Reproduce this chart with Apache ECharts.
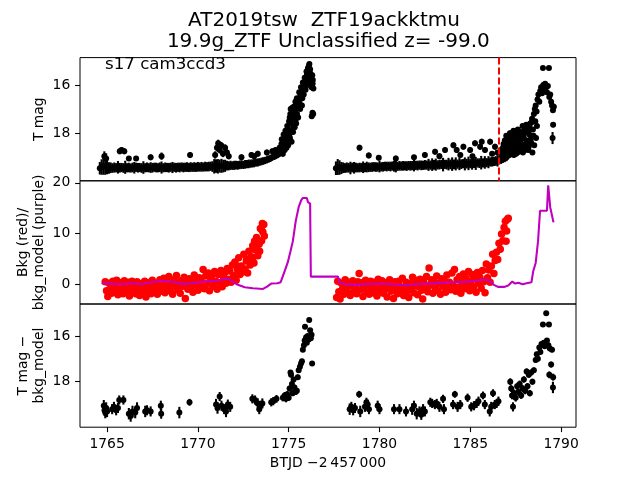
<!DOCTYPE html>
<html><head><meta charset="utf-8">
<script src="https://cdn.jsdelivr.net/npm/echarts@6/dist/echarts.min.js"></script>
<style>html,body{margin:0;padding:0;background:#fff}#c{width:640px;height:480px}</style>
</head><body><div id="c"></div>
<script>
// ---------- data ----------
const xTicks = [1765, 1770, 1775, 1780, 1785, 1790];
const topYTicks = [16, 18];
const midYTicks = [0, 10, 20];
const botYTicks = [16, 18];
const peakLineX = 1786.57;

// top panel: [time, mag, err]
const lcOrbit1Band = [[1764.6,19.45,0.26],[1764.7,19.4,0.32],[1764.8,19.36,0.36],[1764.9,19.38,0.34],[1765.0,19.42,0.28],[1765.1,19.44,0.24],[1765.2,19.43,0.22],[1765.3,19.44,0.2],[1765.4,19.42,0.21],[1765.5,19.43,0.19],[1765.6,19.41,0.26],[1765.7,19.43,0.2],[1765.8,19.42,0.19],[1765.9,19.44,0.2],[1766.0,19.41,0.27],[1766.1,19.43,0.19],[1766.2,19.42,0.2],[1766.3,19.44,0.19],[1766.4,19.42,0.2],[1766.5,19.43,0.24],[1766.6,19.41,0.19],[1766.7,19.43,0.2],[1766.8,19.42,0.19],[1766.9,19.44,0.2],[1767.0,19.42,0.26],[1767.1,19.43,0.19],[1767.2,19.41,0.2],[1767.3,19.43,0.19],[1767.4,19.42,0.22],[1767.5,19.43,0.2],[1767.6,19.41,0.19],[1767.7,19.42,0.2],[1767.8,19.43,0.19],[1767.9,19.41,0.2],[1768.0,19.42,0.25],[1768.1,19.43,0.19],[1768.2,19.41,0.2],[1768.3,19.42,0.19],[1768.4,19.43,0.2],[1768.5,19.41,0.19],[1768.6,19.42,0.23],[1768.7,19.41,0.19],[1768.8,19.43,0.2],[1768.9,19.41,0.19],[1769.0,19.42,0.2],[1769.1,19.4,0.19],[1769.2,19.42,0.2],[1769.3,19.41,0.19],[1769.4,19.4,0.2],[1769.5,19.42,0.19],[1769.6,19.4,0.2],[1769.7,19.41,0.19],[1769.8,19.4,0.2],[1769.9,19.41,0.19],[1770.0,19.39,0.2],[1770.1,19.4,0.19],[1770.2,19.39,0.2],[1770.3,19.4,0.19],[1770.4,19.38,0.2],[1770.5,19.39,0.19],[1770.6,19.38,0.2],[1770.7,19.37,0.19],[1770.8,19.38,0.22],[1770.9,19.37,0.3],[1771.0,19.36,0.28],[1771.1,19.37,0.3],[1771.2,19.36,0.27],[1771.3,19.35,0.29],[1771.4,19.36,0.26],[1771.5,19.35,0.25],[1771.6,19.34,0.2],[1771.7,19.35,0.19],[1771.8,19.33,0.19],[1771.9,19.34,0.18],[1772.0,19.33,0.19],[1772.1,19.32,0.18],[1772.2,19.33,0.18],[1772.3,19.31,0.18],[1772.4,19.3,0.18],[1772.5,19.31,0.17],[1772.6,19.29,0.18],[1772.7,19.28,0.17],[1772.8,19.27,0.18],[1772.9,19.26,0.17],[1773.0,19.25,0.17],[1773.1,19.24,0.17],[1773.2,19.22,0.16],[1773.3,19.21,0.17],[1773.4,19.19,0.16],[1773.5,19.17,0.16],[1773.6,19.15,0.16],[1773.7,19.13,0.15],[1773.8,19.1,0.15],[1773.9,19.07,0.15],[1774.0,19.04,0.15],[1774.1,19.0,0.14],[1774.2,18.97,0.14],[1774.3,18.93,0.14],[1774.4,18.89,0.14],[1774.5,18.84,0.13],[1774.6,18.78,0.13]];
const lcOrbit1Out = [[1764.85,18.95,0.2],[1764.95,19.05,0.22],[1765.7,18.75,0.12],[1765.8,18.7,0.12],[1765.95,18.75,0.12],[1766.2,19.05,0.1],[1766.6,19.05,0.1],[1767.4,19.0,0.12],[1768.0,18.95,0.15],[1769.57,18.9,0.12],[1770.95,18.9,0.15],[1771.05,18.6,0.15],[1771.12,18.42,0.15],[1771.2,18.7,0.14],[1771.28,18.5,0.14],[1771.38,18.85,0.14],[1771.5,18.6,0.14],[1771.6,18.8,0.13],[1771.7,18.95,0.13],[1772.4,19.0,0.12],[1772.95,18.9,0.12],[1773.1,18.95,0.12],[1773.3,18.85,0.12],[1773.8,18.8,0.12],[1774.1,18.75,0.12],[1774.28,18.7,0.12]];
const lcOrbit1Rise = [[1774.5,18.6,0.1],[1774.6,18.45,0.1],[1774.65,18.65,0.1],[1774.7,18.3,0.1],[1774.75,18.55,0.1],[1774.8,18.15,0.09],[1774.85,18.4,0.09],[1774.9,18.0,0.09],[1774.95,18.3,0.09],[1775.0,17.85,0.09],[1775.03,18.1,0.09],[1775.06,17.35,0.08],[1775.09,17.2,0.08],[1775.12,17.6,0.08],[1775.15,17.9,0.08],[1775.18,17.4,0.08],[1775.22,17.15,0.08],[1775.26,17.7,0.08],[1775.3,17.3,0.08],[1775.34,17.05,0.08],[1775.38,17.45,0.08],[1775.42,16.95,0.07],[1775.46,17.2,0.07],[1775.5,16.8,0.07],[1775.55,16.6,0.07],[1775.6,16.75,0.07],[1775.65,16.45,0.07],[1775.7,16.3,0.07],[1775.75,16.55,0.07],[1775.8,16.15,0.06],[1775.85,15.95,0.06],[1775.9,16.1,0.06],[1775.95,15.8,0.06],[1776.0,15.6,0.06],[1776.04,15.75,0.06],[1776.08,15.4,0.05],[1776.12,15.2,0.05],[1776.14,15.13,0.05],[1776.18,15.35,0.05],[1776.21,15.55,0.05],[1776.24,15.7,0.05],[1776.27,15.9,0.06],[1776.3,15.6,0.06],[1776.33,15.8,0.06],[1776.27,17.3,0.08],[1776.31,17.15,0.08],[1776.35,17.2,0.08]];
const lcOrbit1RiseB = [[1774.55,18.8,0.12],[1774.62,18.25,0.1],[1774.68,18.85,0.12],[1774.72,18.05,0.1],[1774.78,18.7,0.11],[1774.82,17.9,0.1],[1774.88,18.6,0.1],[1774.92,17.7,0.09],[1774.97,18.5,0.1],[1775.02,17.5,0.09],[1775.07,18.2,0.1],[1775.11,17.0,0.08],[1775.16,18.35,0.1],[1775.2,16.95,0.08],[1775.24,17.95,0.09],[1775.28,16.9,0.08],[1775.33,17.75,0.09],[1775.37,16.7,0.08],[1775.41,17.6,0.08],[1775.45,16.55,0.07],[1775.52,17.35,0.08],[1775.58,16.3,0.07],[1775.63,17.0,0.08],[1775.68,16.1,0.07],[1775.73,16.85,0.07],[1775.78,15.9,0.06],[1775.83,16.4,0.07],[1775.88,15.7,0.06],[1775.93,16.2,0.06],[1775.98,15.45,0.06],[1776.02,16.0,0.06],[1776.06,15.3,0.06],[1776.16,15.5,0.05],[1776.2,15.9,0.06],[1776.26,16.1,0.06],[1776.32,15.95,0.06],[1776.36,16.15,0.06]];
const lcOrbit2Band = [[1777.6,19.45,0.28],[1777.7,19.4,0.33],[1777.8,19.42,0.3],[1777.9,19.44,0.25],[1778.0,19.43,0.22],[1778.1,19.44,0.2],[1778.2,19.42,0.21],[1778.3,19.43,0.2],[1778.4,19.44,0.26],[1778.5,19.42,0.2],[1778.6,19.43,0.24],[1778.7,19.42,0.2],[1778.8,19.43,0.19],[1778.9,19.42,0.2],[1779.0,19.42,0.19],[1779.1,19.41,0.24],[1779.2,19.42,0.19],[1779.3,19.4,0.22],[1779.4,19.41,0.2],[1779.5,19.41,0.19],[1779.6,19.4,0.2],[1779.7,19.39,0.19],[1779.8,19.4,0.2],[1779.9,19.4,0.19],[1780.0,19.38,0.24],[1780.1,19.39,0.19],[1780.2,19.39,0.2],[1780.3,19.37,0.19],[1780.4,19.38,0.2],[1780.5,19.37,0.19],[1780.6,19.38,0.2],[1780.7,19.36,0.19],[1780.8,19.37,0.22],[1780.9,19.36,0.26],[1781.0,19.37,0.19],[1781.1,19.35,0.2],[1781.2,19.36,0.19],[1781.3,19.35,0.2],[1781.4,19.35,0.19],[1781.5,19.36,0.2],[1781.6,19.34,0.19],[1781.7,19.35,0.2],[1781.8,19.34,0.19],[1781.9,19.34,0.24],[1782.0,19.33,0.19],[1782.1,19.34,0.2],[1782.2,19.32,0.19],[1782.3,19.33,0.2],[1782.4,19.33,0.19],[1782.5,19.31,0.2],[1782.6,19.32,0.19],[1782.7,19.31,0.25],[1782.8,19.32,0.19],[1782.9,19.3,0.26],[1783.0,19.31,0.2],[1783.1,19.3,0.25],[1783.2,19.31,0.19],[1783.3,19.3,0.2],[1783.4,19.29,0.19],[1783.5,19.3,0.28],[1783.6,19.29,0.19],[1783.7,19.3,0.2],[1783.8,19.28,0.26],[1783.9,19.29,0.2],[1784.0,19.28,0.28],[1784.1,19.29,0.2],[1784.2,19.27,0.27],[1784.3,19.28,0.19],[1784.4,19.27,0.26],[1784.5,19.28,0.2],[1784.6,19.26,0.19],[1784.7,19.27,0.27],[1784.8,19.26,0.2],[1784.9,19.25,0.28],[1785.0,19.26,0.19],[1785.1,19.25,0.26],[1785.2,19.24,0.2],[1785.3,19.25,0.27],[1785.4,19.23,0.19],[1785.5,19.24,0.2],[1785.6,19.22,0.28],[1785.7,19.23,0.19],[1785.8,19.21,0.26],[1785.9,19.22,0.19],[1786.0,19.2,0.25],[1786.1,19.19,0.19],[1786.2,19.18,0.2],[1786.3,19.17,0.19],[1786.4,19.15,0.2],[1786.5,19.13,0.25],[1786.6,19.11,0.18],[1786.7,19.09,0.18],[1786.8,19.06,0.17],[1786.9,19.03,0.17],[1787.0,19.0,0.16]];
const lcOrbit2Out = [[1778.9,18.6,0.12],[1779.41,18.92,0.12],[1779.96,19.02,0.1],[1780.9,19.05,0.12],[1781.9,19.0,0.1],[1782.5,18.9,0.12],[1783.06,18.77,0.12],[1783.3,18.95,0.12],[1783.61,18.7,0.12],[1784.07,18.5,0.12],[1784.25,18.7,0.12],[1784.45,18.9,0.1],[1784.62,18.56,0.12],[1784.99,18.7,0.12],[1785.12,18.95,0.1],[1785.26,18.42,0.12],[1785.54,18.56,0.12],[1785.63,18.35,0.12],[1785.81,18.7,0.12],[1786.09,18.35,0.12],[1786.2,18.85,0.1],[1786.36,18.56,0.12],[1786.5,18.8,0.1]];
const lcOrbit2Rise = [[1786.75,18.9,0.12],[1786.8,18.6,0.12],[1786.85,18.75,0.12],[1786.9,18.3,0.12],[1786.95,18.85,0.12],[1787.0,18.45,0.11],[1787.05,18.7,0.11],[1787.1,18.2,0.11],[1787.15,18.9,0.11],[1787.2,18.5,0.11],[1787.25,18.05,0.11],[1787.3,18.75,0.11],[1787.35,18.35,0.11],[1787.4,18.9,0.11],[1787.45,18.15,0.11],[1787.5,18.6,0.1],[1787.55,18.0,0.1],[1787.6,18.8,0.1],[1787.65,18.4,0.1],[1787.7,18.1,0.1],[1787.75,18.65,0.1],[1787.8,17.95,0.1],[1787.85,18.45,0.1],[1787.9,18.8,0.1],[1787.95,18.2,0.1],[1788.0,17.85,0.1],[1788.05,18.55,0.1],[1788.1,18.3,0.1],[1788.15,17.75,0.09],[1788.2,18.7,0.1],[1788.25,18.05,0.09],[1788.3,17.6,0.09],[1788.35,18.4,0.09],[1788.4,17.4,0.09],[1788.42,18.8,0.1],[1788.45,17.85,0.09],[1788.5,17.2,0.08],[1788.52,18.5,0.1],[1788.55,17.0,0.08],[1788.6,16.85,0.08],[1788.62,18.2,0.1],[1788.65,17.1,0.08],[1788.67,17.7,0.09],[1788.7,16.6,0.07],[1788.75,16.4,0.07],[1788.8,16.7,0.07],[1788.85,16.25,0.07],[1788.9,16.1,0.07],[1788.95,16.35,0.07],[1789.0,15.3,0.06],[1789.02,16.0,0.06],[1789.07,16.2,0.06],[1789.12,15.95,0.06],[1789.17,16.1,0.06],[1789.22,16.3,0.06],[1789.27,16.05,0.06],[1789.33,15.3,0.06],[1789.35,16.5,0.07],[1789.4,16.4,0.07],[1789.45,16.7,0.07],[1789.5,16.85,0.07],[1789.55,17.05,0.08],[1789.6,16.9,0.08],[1789.56,17.65,0.1],[1789.53,18.2,0.25]];
const lcOrbit2RiseB = [[1786.7,18.7,0.12],[1786.78,19.0,0.12],[1786.83,18.45,0.12],[1786.88,18.95,0.12],[1786.93,18.55,0.12],[1786.98,18.1,0.11],[1787.02,18.95,0.11],[1787.08,18.35,0.11],[1787.12,18.6,0.11],[1787.18,18.0,0.11],[1787.22,18.8,0.11],[1787.28,18.25,0.11],[1787.32,18.55,0.11],[1787.38,17.9,0.1],[1787.42,18.65,0.11],[1787.48,18.3,0.1],[1787.52,18.85,0.1],[1787.58,18.5,0.1],[1787.62,17.85,0.1],[1787.68,18.6,0.1],[1787.72,18.3,0.1],[1787.78,18.75,0.1],[1787.82,18.2,0.1],[1787.88,17.7,0.1],[1787.92,18.5,0.1],[1787.98,18.0,0.1],[1788.02,18.7,0.1],[1788.08,17.65,0.1],[1788.12,18.45,0.1],[1788.18,17.95,0.1],[1788.22,18.55,0.1],[1788.28,17.8,0.09],[1788.32,18.25,0.1],[1788.38,17.55,0.09],[1788.48,18.1,0.1],[1788.58,17.5,0.09]];

// middle panel: background [time, value] and background model [time, value]
const bkgOrbit1 = [[1764.90,0.5],[1764.97,-1.3],[1765.04,-2.4],[1765.11,0.2],[1765.18,-0.9],[1765.25,-1.8],[1765.32,0.6],[1765.39,-0.4],[1765.46,-1.5],[1765.53,0.8],[1765.60,-2.1],[1765.67,-0.6],[1765.74,0.3],[1765.81,-1.2],[1765.88,-1.9],[1765.95,0.7],[1766.02,-0.3],[1766.09,-1.6],[1766.16,0.4],[1766.23,-2.3],[1766.30,-0.8],[1766.37,0.6],[1766.44,-1.4],[1766.51,-0.2],[1766.58,-1.9],[1766.65,0.5],[1766.72,-1.0],[1766.79,-2.2],[1766.86,0.1],[1766.93,-0.7],[1767.00,-1.6],[1767.07,0.6],[1767.14,-2.5],[1767.21,-0.5],[1767.28,0.3],[1767.35,-1.3],[1767.42,-1.9],[1767.49,0.8],[1767.56,-0.4],[1767.63,-1.1],[1767.70,0.2],[1767.77,-2.0],[1767.84,-0.6],[1767.91,0.9],[1767.98,-1.4],[1768.05,-0.2],[1768.12,1.2],[1768.19,-1.7],[1768.26,0.4],[1768.33,-0.9],[1768.40,1.5],[1768.47,-1.3],[1768.54,0.1],[1768.61,-2.0],[1768.68,0.9],[1768.75,-0.5],[1768.82,1.7],[1768.89,-1.1],[1768.96,0.3],[1769.03,-1.8],[1769.10,0.7],[1769.17,-0.4],[1769.24,1.4],[1769.31,-2.8],[1769.38,0.2],[1769.45,-1.0],[1769.52,1.1],[1769.59,-0.6],[1769.66,0.5],[1769.73,-1.6],[1769.80,1.8],[1769.87,-0.2],[1769.94,0.8],[1770.01,-1.2],[1770.08,1.3],[1770.15,-0.7],[1770.22,0.4],[1770.29,2.9],[1770.36,-0.9],[1770.43,1.6],[1770.50,0.1],[1770.57,2.2],[1770.64,-1.3],[1770.71,0.9],[1770.78,1.8],[1770.85,-0.4],[1770.92,2.5],[1770.99,0.6],[1771.06,-1.0],[1771.13,1.9],[1771.20,0.3],[1771.27,2.7],[1771.34,-0.5],[1771.41,1.4],[1771.48,2.3],[1771.55,0.2],[1771.62,3.1],[1771.69,1.0],[1771.76,2.6],[1771.83,0.4],[1771.90,3.8],[1771.94,1.2],[1771.97,1.7],[1772.04,4.4],[1772.11,0.8],[1772.18,2.9],[1772.21,3.5],[1772.25,5.2],[1772.32,1.9],[1772.39,3.6],[1772.46,2.4],[1772.53,5.9],[1772.60,3.0],[1772.67,4.6],[1772.70,5.0],[1772.74,2.2],[1772.81,6.5],[1772.88,3.8],[1772.95,5.4],[1773.00,4.8],[1773.02,7.6],[1773.09,4.2],[1773.12,8.5],[1773.16,6.8],[1773.20,7.2],[1773.23,9.2],[1773.30,5.6],[1773.37,7.9],[1773.40,6.5],[1773.44,11.0],[1773.50,10.8],[1773.51,8.6],[1773.55,12.0],[1773.58,10.3],[1773.63,11.8],[1773.66,9.5]];
const bkgOrbit2 = [[1777.64,-2.6],[1777.70,0.6],[1777.76,-1.5],[1777.83,-2.9],[1777.90,0.2],[1777.97,-0.9],[1778.04,-2.0],[1778.11,0.9],[1778.18,-0.5],[1778.25,-1.6],[1778.32,0.4],[1778.39,-2.2],[1778.46,-0.3],[1778.53,0.7],[1778.60,-1.3],[1778.67,-0.6],[1778.74,-1.9],[1778.81,0.5],[1778.88,2.1],[1778.95,-1.1],[1779.02,0.3],[1779.09,-2.4],[1779.16,-0.4],[1779.23,0.8],[1779.30,-1.5],[1779.37,-0.1],[1779.44,-2.0],[1779.51,0.6],[1779.58,-0.8],[1779.65,-1.7],[1779.72,0.4],[1779.79,-0.5],[1779.86,-2.3],[1779.93,1.0],[1780.00,-1.2],[1780.07,-0.3],[1780.14,0.7],[1780.21,-1.8],[1780.28,-0.6],[1780.35,0.3],[1780.42,-2.5],[1780.49,-0.9],[1780.56,0.9],[1780.63,-1.4],[1780.70,-0.2],[1780.77,-2.8],[1780.84,0.5],[1780.91,-1.0],[1780.98,-1.9],[1781.05,0.6],[1781.12,-0.4],[1781.19,-1.6],[1781.26,1.2],[1781.33,-2.2],[1781.40,-0.7],[1781.47,0.4],[1781.54,-1.3],[1781.61,-2.6],[1781.68,0.1],[1781.75,-0.8],[1781.82,1.4],[1781.89,-1.7],[1781.96,-0.3],[1782.03,0.8],[1782.10,-2.1],[1782.17,-0.5],[1782.24,1.0],[1782.31,-1.2],[1782.38,-2.9],[1782.45,0.3],[1782.52,-0.6],[1782.59,1.5],[1782.66,-1.5],[1782.73,3.2],[1782.80,-0.2],[1782.87,0.9],[1782.94,-1.8],[1783.01,0.5],[1783.08,-0.9],[1783.15,1.6],[1783.22,-1.3],[1783.29,0.2],[1783.36,-2.0],[1783.43,1.1],[1783.50,-0.4],[1783.57,0.7],[1783.64,-1.6],[1783.71,1.8],[1783.78,-0.7],[1783.85,0.4],[1783.92,-1.1],[1783.99,2.2],[1784.06,-0.3],[1784.13,2.9],[1784.20,-1.4],[1784.27,0.9],[1784.34,-0.6],[1784.41,1.5],[1784.48,-1.8],[1784.55,0.3],[1784.62,2.0],[1784.69,-0.9],[1784.76,1.2],[1784.83,-0.2],[1784.90,2.5],[1784.97,-1.3],[1785.04,0.6],[1785.11,1.9],[1785.18,-0.5],[1785.25,1.1],[1785.32,-1.6],[1785.39,2.3],[1785.46,0.2],[1785.53,1.4],[1785.60,-0.8],[1785.67,2.7],[1785.74,0.5],[1785.81,-1.7],[1785.88,4.0],[1785.95,1.3],[1786.02,2.8],[1786.09,0.4],[1786.16,3.6],[1786.23,5.9],[1786.30,2.1],[1786.37,4.7],[1786.44,6.3],[1786.51,4.9],[1786.58,8.1],[1786.65,6.9],[1786.72,9.9],[1786.79,8.6],[1786.86,11.2],[1786.93,12.4],[1786.97,8.5],[1787.00,10.5],[1787.05,12.8],[1787.09,13.0]];
const bkgModel = [[1764.7,0.2],[1765.4,0.07],[1765.8,0],[1766.5,0.2],[1766.95,0],[1767.4,0.4],[1768.08,0.67],[1768.75,0.4],[1769.2,0.07],[1769.65,0.2],[1770.3,0.5],[1771.0,0.67],[1771.56,1.07],[1771.79,0.87],[1772.13,0],[1772.58,-0.6],[1773.03,-0.8],[1773.59,-0.93],[1773.81,-0.47],[1774.04,0.13],[1774.38,0.2],[1774.56,0.4],[1774.71,1.9],[1774.94,4.2],[1775.1,6.5],[1775.23,8.5],[1775.39,12.5],[1775.55,15.2],[1775.68,16.5],[1775.77,17.0],[1776.0,17.0],[1776.06,16.2],[1776.18,15.9],[1776.22,1.5],[1777.71,1.5],[1777.8,0.4],[1778.09,0],[1778.65,-0.13],[1779.33,0],[1780.0,0.13],[1780.68,0],[1781.35,-0.2],[1782.03,0],[1782.7,0.13],[1783.38,0.27],[1784.05,0.4],[1784.72,0.47],[1785.29,0.67],[1785.74,0.93],[1786.07,0.67],[1786.3,-0.13],[1786.52,-0.53],[1786.86,-0.53],[1787.09,-0.27],[1787.31,0.53],[1787.47,0.13],[1787.65,0.27],[1787.88,0],[1788.1,0.2],[1788.21,-0.13],[1788.37,0.4],[1788.46,2.5],[1788.6,4.2],[1788.73,8.5],[1788.84,14.5],[1789.22,14.5],[1789.29,19.5],[1789.38,19.5],[1789.4,15.2],[1789.5,15.2],[1789.58,12.2]];

// bottom panel: [time, mag, err]
const diffOrbit1 = [[1764.82,19.05,0.25],[1764.86,19.25,0.25],[1764.9,19.35,0.25],[1764.95,19.15,0.25],[1765.0,19.3,0.25],[1765.28,19.2,0.22],[1765.38,19.1,0.22],[1765.5,19.25,0.22],[1765.6,19.15,0.22],[1765.67,18.8,0.2],[1765.9,18.8,0.2],[1766.2,19.4,0.25],[1766.3,19.5,0.25],[1766.4,19.3,0.25],[1766.55,19.35,0.25],[1766.65,19.15,0.25],[1767.1,19.3,0.25],[1767.2,19.25,0.22],[1767.4,19.3,0.22],[1767.96,19.05,0.22],[1767.98,19.4,0.22],[1768.98,19.35,0.25],[1769.54,18.9,0.15],[1771.0,19.0,0.25],[1771.08,19.15,0.25],[1771.2,18.65,0.2],[1771.3,19.05,0.22],[1771.45,19.2,0.22],[1771.55,19.3,0.25],[1771.65,19.0,0.22],[1771.78,19.1,0.22],[1773.0,18.75,0.2],[1773.15,18.8,0.2],[1773.3,18.95,0.22],[1773.38,19.2,0.22],[1773.45,19.05,0.22],[1773.55,18.95,0.22],[1774.04,18.9,0.18],[1774.15,18.85,0.18],[1774.33,18.75,0.17],[1774.68,18.7,0.16],[1774.78,18.6,0.15],[1774.85,18.75,0.15],[1774.92,18.55,0.14],[1775.0,18.7,0.14],[1775.05,18.3,0.13],[1775.1,17.6,0.11],[1775.13,17.7,0.11],[1775.18,18.1,0.12],[1775.22,18.5,0.13],[1775.27,17.9,0.12],[1775.32,18.25,0.12],[1775.38,18.45,0.12],[1775.45,18.4,0.12],[1775.5,17.8,0.11],[1775.55,17.5,0.1],[1775.62,17.35,0.1],[1775.68,17.2,0.1],[1775.73,17.1,0.1],[1775.78,16.6,0.09],[1775.84,16.4,0.09],[1775.88,16.2,0.08],[1775.9,15.6,0.08],[1775.96,16.05,0.08],[1776.0,16.3,0.08],[1776.05,16.0,0.08],[1776.1,16.15,0.08],[1776.13,15.3,0.07],[1776.18,15.75,0.07],[1776.22,16.1,0.08],[1776.26,15.95,0.08],[1776.29,17.2,0.1]];
const diffOrbit2 = [[1778.36,19.2,0.25],[1778.45,19.1,0.22],[1778.55,19.25,0.22],[1778.65,19.15,0.22],[1778.88,18.55,0.15],[1778.94,19.3,0.25],[1779.2,19.1,0.22],[1779.28,18.9,0.2],[1779.35,19.0,0.22],[1779.42,19.2,0.22],[1779.9,19.05,0.22],[1780.0,19.2,0.22],[1780.8,19.2,0.22],[1781.1,19.2,0.22],[1781.46,19.3,0.22],[1781.8,19.2,0.25],[1781.9,19.05,0.22],[1782.05,19.4,0.25],[1782.2,19.3,0.22],[1782.3,19.45,0.22],[1782.4,19.2,0.22],[1782.5,19.3,0.22],[1782.8,18.9,0.2],[1782.9,18.95,0.2],[1783.05,19.0,0.2],[1783.15,18.95,0.2],[1783.3,19.1,0.22],[1783.5,18.75,0.18],[1783.55,19.2,0.22],[1784.05,19.0,0.2],[1784.15,18.55,0.15],[1784.3,19.1,0.22],[1784.45,19.0,0.2],[1784.85,18.7,0.18],[1785.05,19.1,0.2],[1785.2,19.05,0.2],[1785.35,18.95,0.2],[1785.45,18.85,0.2],[1785.7,18.6,0.17],[1785.8,19.0,0.2],[1786.07,19.3,0.22],[1786.15,19.1,0.22],[1786.25,18.5,0.17],[1786.35,19.0,0.2],[1786.45,18.95,0.2],[1786.55,18.85,0.2],[1787.2,18.0,0.15],[1787.25,18.3,0.15],[1787.3,18.6,0.17],[1787.35,19.1,0.2],[1787.42,18.5,0.16],[1787.5,18.7,0.17],[1787.58,18.2,0.15],[1787.65,18.45,0.15],[1787.72,18.1,0.15],[1787.8,18.6,0.15],[1787.88,18.3,0.15],[1787.95,17.9,0.14],[1788.02,18.4,0.15],[1788.1,17.55,0.13],[1788.15,18.2,0.14],[1788.22,17.7,0.13],[1788.28,18.5,0.14],[1788.35,17.6,0.13],[1788.42,18.0,0.13],[1788.5,17.5,0.12],[1788.6,17.05,0.12],[1788.66,16.8,0.11],[1788.72,17.0,0.11],[1788.8,16.5,0.1],[1788.86,16.7,0.1],[1788.92,16.35,0.1],[1789.0,15.5,0.09],[1789.05,16.3,0.1],[1789.1,16.45,0.1],[1789.18,15.0,0.08],[1789.22,16.2,0.1],[1789.3,16.4,0.1],[1789.33,15.5,0.09],[1789.38,16.55,0.1],[1789.35,17.7,0.15],[1789.45,17.25,0.13],[1789.5,16.6,0.11],[1789.56,17.8,0.15],[1789.55,18.25,0.25]];

// ---------- chart ----------
const FONT = 'DejaVu Sans';
const TICK_FS = 13.9;
const LW = 2.08;
const chart = echarts.init(document.getElementById('c'), null, {renderer: 'canvas'});
const gridTop = [57.6, 180.8, 304.0];
const gridH = 123.2;

function xAxisCfg(gi, show) {
  return {
    type: 'value', gridIndex: gi, min: 1763.51, max: 1790.82,
    axisLine: {show: false}, splitLine: {show: false},
    axisTick: {show: show, customValues: xTicks, length: 4.9, lineStyle: {color: '#000', width: 1.1}},
    axisLabel: {show: show, customValues: xTicks, margin: 10, color: '#000', fontFamily: FONT, fontSize: TICK_FS, formatter: v => String(v)}
  };
}
function yAxisCfg(gi, min, max, ticks, inverse) {
  return {
    type: 'value', gridIndex: gi, min: min, max: max, inverse: inverse,
    axisLine: {show: false}, splitLine: {show: false},
    axisTick: {show: true, customValues: ticks, length: 4.9, lineStyle: {color: '#000', width: 1.1}},
    axisLabel: {show: true, customValues: ticks, margin: 9.7, color: '#000', fontFamily: FONT, fontSize: TICK_FS, formatter: v => String(v)}
  };
}
function errBars(data, idx, color) {
  return {
    type: 'custom', xAxisIndex: idx, yAxisIndex: idx, data: data, silent: true, z: 2,
    encode: {x: 0, y: 1},
    renderItem: function (params, api) {
      const x = api.value(0), m = api.value(1), e = api.value(2);
      const p1 = api.coord([x, m - e]), p2 = api.coord([x, m + e]);
      return {type: 'line', shape: {x1: p1[0], y1: p1[1], x2: p2[0], y2: p2[1]},
              style: {stroke: color, lineWidth: LW}};
    }
  };
}
function points(data, idx, color, size, z) {
  return {
    type: 'scatter', xAxisIndex: idx, yAxisIndex: idx, silent: true, z: z || 3,
    data: data.map(d => [d[0], d[1]]), symbol: 'circle', symbolSize: size,
    itemStyle: {color: color, opacity: 1}
  };
}

const topSets = [lcOrbit1Band, lcOrbit1Out, lcOrbit1Rise, lcOrbit1RiseB, lcOrbit2Band, lcOrbit2Out, lcOrbit2Rise, lcOrbit2RiseB];
const botSets = [diffOrbit1, diffOrbit2];
const series = [];
topSets.forEach(s => { series.push(errBars(s, 0, '#000')); series.push(points(s, 0, '#000', 6)); });
series.push({
  type: 'line', xAxisIndex: 0, yAxisIndex: 0, data: [], silent: true, z: 5,
  markLine: {silent: true, symbol: 'none', animation: false, label: {show: false},
    lineStyle: {color: '#ff0000', type: [7, 3], width: 2},
    data: [{xAxis: peakLineX}]}
});
series.push(points(bkgOrbit1, 1, '#ff0000', 7.5));
series.push(points(bkgOrbit2, 1, '#ff0000', 7.5));
series.push({
  type: 'line', xAxisIndex: 1, yAxisIndex: 1, data: bkgModel, showSymbol: false, silent: true, z: 4,
  lineStyle: {color: '#bf00bf', width: LW}
});
botSets.forEach(s => { series.push(errBars(s, 2, '#000')); series.push(points(s, 2, '#000', 6)); });

function txt(x, y, text, size, rot, lh, align) {
  const a = align || 'center';
  return {type: 'text', x: x, y: y, rotation: rot || 0, silent: true,
    style: {text: text, x: 0, y: 0, fill: '#000', fontFamily: FONT, fontSize: size,
      align: a, verticalAlign: 'middle', textAlign: a, textVerticalAlign: 'middle',
      lineHeight: lh || size * 1.2}};
}

chart.setOption({
  animation: false,
  backgroundColor: '#fff',
  grid: gridTop.map(t => ({left: 80, right: 64, top: t, height: gridH, show: true,
    borderColor: '#000', borderWidth: 1, backgroundColor: 'transparent', containLabel: false})),
  xAxis: [xAxisCfg(0, false), xAxisCfg(1, false), xAxisCfg(2, true)],
  yAxis: [yAxisCfg(0, 14.87, 19.97, topYTicks, true),
          yAxisCfg(1, -3.9, 20.4, midYTicks, false),
          yAxisCfg(2, 14.6, 19.99, botYTicks, true)],
  series: series,
  graphic: [
    txt(324, 20.6, 'AT2019tsw  ZTF19ackktmu', 20),
    txt(328.3, 41.6, '19.9g_ZTF Unclassified z= -99.0', 20),
    txt(105, 64.2, 's17 cam3ccd3', 16.67, 0, 20, 'left'),
    txt(39.5, 119.2, 'T mag', TICK_FS, Math.PI / 2),
    txt(31.5, 242.4, 'Bkg (red)/\nbkg_model (purple)', TICK_FS, Math.PI / 2, 16.7),
    txt(31.5, 365.6, 'T mag \u2212\nbkg_model', TICK_FS, Math.PI / 2, 16.7),
    txt(328, 463.2, 'BTJD \u22122\u2009457\u2009000', TICK_FS)
  ]
});
</script>
</body></html>
